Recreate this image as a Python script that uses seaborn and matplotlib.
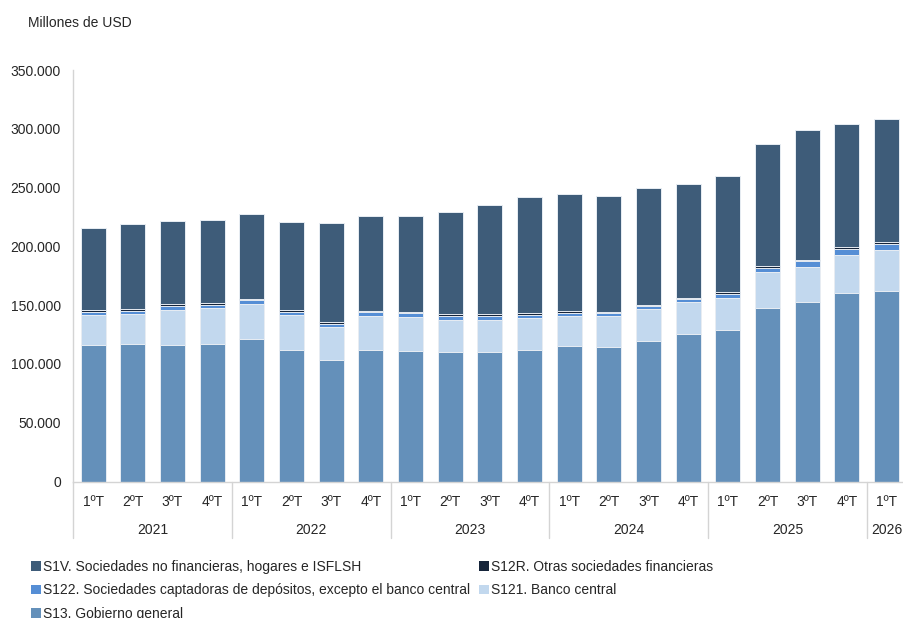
import matplotlib
matplotlib.use("Agg")
import matplotlib.pyplot as plt
import matplotlib.transforms as mtransforms
from matplotlib.patches import Patch
import numpy as np
import seaborn as sns

# deuda externa por sector (millones de USD), 2021 1T - 2026 1T
years = ["2021", "2022", "2023", "2024", "2025", "2026"]
quarters = ["1ºT", "2ºT", "3ºT", "4ºT"] * 5 + ["1ºT"]
periods = [f"{y} {q}" for y in years[:5] for q in ["1ºT", "2ºT", "3ºT", "4ºT"]] + ["2026 1ºT"]

s13 = [116400, 116700, 116100, 117000, 120900, 112100, 103600, 112100, 111000, 109900, 110200,
       111900, 114900, 114100, 119200, 125500, 128600, 147800, 152300, 160000, 161700]
s121 = [24900, 25400, 30000, 30200, 30300, 29200, 27800, 28900, 28900, 27700, 27400,
        27100, 26100, 26900, 27800, 26800, 27700, 30300, 29800, 32300, 34800]
s122 = [2800, 2600, 3400, 2900, 2800, 2800, 2800, 2800, 3100, 2800, 2800,
        2600, 2600, 2000, 1900, 2600, 2800, 3700, 5100, 5600, 5400]
s12r = [1400, 2000, 1100, 1400, 1200, 1400, 1700, 1200, 1100, 1700, 2000,
        1400, 1400, 1400, 1500, 1400, 1700, 1400, 800, 1500, 1400]
s1v = [70500, 72500, 70900, 70800, 71900, 75600, 83600, 80700, 81900, 87300, 92600,
       98800, 99700, 98800, 99600, 97100, 99100, 103700, 111000, 105000, 105100]

series = [
    ("S1V. Sociedades no financieras, hogares e ISFLSH", s1v, "#3E5C79"),
    ("S12R. Otras sociedades financieras", s12r, "#15243A"),
    ("S122. Sociedades captadoras de depósitos, excepto el banco central", s122, "#558ED5"),
    ("S121. Banco central", s121, "#C2D8EE"),
    ("S13. Gobierno general", s13, "#6490BA"),
]

sns.set_style("white")
plt.rcParams["font.family"] = ["Liberation Sans", "DejaVu Sans"]
fs = 10
text_color = "#262626"
line_color = "#D4D4D4"

W, H = 904, 618
fig = plt.figure(figsize=(W / 100, H / 100), dpi=100)
ax_left, ax_right, ax_top, ax_bottom = 73.3, 906.4, 70, 481.5
ax = fig.add_axes([ax_left / W, 1 - ax_bottom / H, (ax_right - ax_left) / W, (ax_bottom - ax_top) / H])

# stacked bars: draw cumulative heights from the top layer down
stack = np.array([s13, s121, s122, s12r, s1v], dtype=float)
cum = np.cumsum(stack, axis=0)
for i, (label, vals, color) in enumerate(series):
    level = 4 - i
    sns.barplot(x=periods, y=cum[level], order=periods, color=color, saturation=1,
                width=0.63, edgecolor="#E8EDF3", linewidth=0.7, ax=ax)

ax.set_xlim(-0.5, len(periods) - 0.5)
ax.set_ylim(0, 350000)
ax.set_yticks(np.arange(0, 350001, 50000))
ax.set_yticklabels([f"{v:,.0f}".replace(",", ".") for v in np.arange(0, 350001, 50000)])
ax.set_xticks(range(len(periods)))
ax.set_xticklabels(quarters)
ax.set_xlabel("")
ax.set_ylabel("")
ax.tick_params(axis="y", length=4.5, width=0.8, color=line_color, labelcolor=text_color,
               labelsize=fs, pad=4.5)
ax.tick_params(axis="x", length=0, labelcolor=text_color, labelsize=fs, pad=10)
for side in ["top", "right"]:
    ax.spines[side].set_visible(False)
for side in ["left", "bottom"]:
    ax.spines[side].set_color(line_color)
    ax.spines[side].set_linewidth(1.0)

# year labels and separators under the axis
trans = mtransforms.blended_transform_factory(ax.transData, ax.transAxes)
ax_h = ax_bottom - ax_top
year_y = -(530 - ax_bottom) / ax_h
sep_y = -(538 - ax_bottom) / ax_h
year_pos = [1.5, 5.5, 9.5, 13.5, 17.5, 20.0]
for yr, xp in zip(years, year_pos):
    ax.text(xp, year_y, yr, transform=trans, ha="center", va="center",
            fontsize=fs, color=text_color)
for xs in [-0.5, 3.5, 7.5, 11.5, 15.5, 19.5]:
    ax.plot([xs, xs], [0, sep_y], transform=trans, color=line_color, lw=1.0, clip_on=False)

fig.text(28 / W, 1 - 23 / H, "Millones de USD", ha="left", va="center",
         fontsize=fs, color=text_color)

# legend, filled row by row
order = [0, 2, 4, 1, 3]
handles = [Patch(facecolor=series[k][2], edgecolor="none") for k in order]
labels = [series[k][0] for k in order]
fig.legend(handles, labels, ncol=2, loc="upper left", bbox_to_anchor=(31 / W, 1 - 560 / H),
           frameon=False, fontsize=fs, handlelength=0.7, handleheight=0.7,
           handletextpad=0.2, columnspacing=0.6, labelspacing=0.68, labelcolor=text_color,
           borderaxespad=0, borderpad=0)

plt.savefig("out.png", dpi=100)
